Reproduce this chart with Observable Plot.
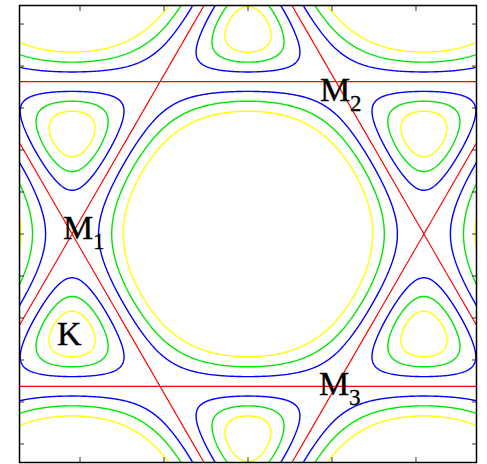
<!DOCTYPE html>
<html>
<head>
<meta charset="utf-8">
<script src="https://cdn.jsdelivr.net/npm/d3@7"></script>
<script src="https://cdn.jsdelivr.net/npm/@observablehq/plot@0.6"></script>
<style>
  html, body { margin: 0; padding: 0; background: #fff; }
</style>
</head>
<body>
<div id="chart"></div>
<script>
// Brillouin-zone window: kx, ky in [-sqrt(3)pi/2, sqrt(3)pi/2] (nearest-neighbour distance = 1)
const L = Math.sqrt(3) * Math.PI / 2;

// Tick values on the frame (no labels)
const xTicks = [-2, -1, 0, 1, 2];
const yTicks = [-2.5, -2, -1.5, -1, -0.5, 0, 0.5, 1, 1.5, 2, 2.5];

// Constant-energy levels |E(k)| / t
const blueLevels = [0.8, 1.2];
const greenLevels = [0.6, 1.4];
const yellowLevels = [0.4, 1.6];
const vanHoveLevel = [1.0];

// High-symmetry points
const pointNames = ["M", "M", "M", "K"];
const pointSubs = ["1", "2", "3", ""];
const pointKx = [-2 * Math.PI / 3, Math.PI / 3, Math.PI / 3, -2 * Math.PI / 3];
const pointKy = [0, Math.PI / Math.sqrt(3), -Math.PI / Math.sqrt(3), -2 * Math.PI / (3 * Math.sqrt(3))];

// Nearest-neighbour tight-binding band of the honeycomb lattice
const s3 = Math.sqrt(3);
const energy = (kx, ky) =>
  Math.sqrt(Math.max(0, 3 + 2 * Math.cos(s3 * ky) + 4 * Math.cos(1.5 * kx) * Math.cos(s3 / 2 * ky)));

const pad = 0.2;
const contourLines = (levels, color, width) =>
  Plot.contour({
    x1: -L - pad, x2: L + pad, y1: -L - pad, y2: L + pad,
    value: energy,
    thresholds: levels,
    stroke: color,
    fill: "none",
    strokeWidth: width,
    pixelSize: 1,
    clip: true
  });

const serif = "'Liberation Serif', 'DejaVu Serif', serif";
const label = (i, dx, dy) => [
  Plot.text([i], {
    x: (j) => pointKx[j], y: (j) => pointKy[j], text: (j) => pointNames[j],
    dx, dy, textAnchor: "start", lineAnchor: "bottom",
    fontSize: 34, fontFamily: serif, fill: "black", stroke: "black", strokeWidth: 0.4
  }),
  Plot.text([i], {
    x: (j) => pointKx[j], y: (j) => pointKy[j], text: (j) => pointSubs[j],
    dx: dx + 30, dy: dy + 10, textAnchor: "start", lineAnchor: "bottom",
    fontSize: 23, fontFamily: serif, fill: "black", stroke: "black", strokeWidth: 0.3
  })
];

const noLabel = () => "";

const chart = Plot.plot({
  width: 487,
  height: 464,
  marginLeft: 19,
  marginRight: 11,
  marginTop: 5,
  marginBottom: 2,
  x: { domain: [-L, L], axis: null },
  y: { domain: [-L, L], axis: null },
  marks: [
    contourLines(yellowLevels, "#ffff00", 1.4),
    contourLines(greenLevels, "#00e600", 1.4),
    contourLines(blueLevels, "#0000ff", 1.4),
    contourLines(vanHoveLevel, "#ff0000", 1.2),
    label(0, -9, 5),
    label(1, -16, 19),
    label(2, -17, 9),
    label(3, -15, 9),
    Plot.axisX(xTicks, { anchor: "bottom", tickSize: -5, tickFormat: noLabel, stroke: "#333" }),
    Plot.axisX(xTicks, { anchor: "top", tickSize: -5, tickFormat: noLabel, stroke: "#333" }),
    Plot.axisY(yTicks, { anchor: "left", tickSize: -5, tickFormat: noLabel, stroke: "#333" }),
    Plot.axisY(yTicks, { anchor: "right", tickSize: -5, tickFormat: noLabel, stroke: "#333" }),
    Plot.frame({ stroke: "black", strokeWidth: 1.5 })
  ]
});

document.getElementById("chart").append(chart);
</script>
</body>
</html>
